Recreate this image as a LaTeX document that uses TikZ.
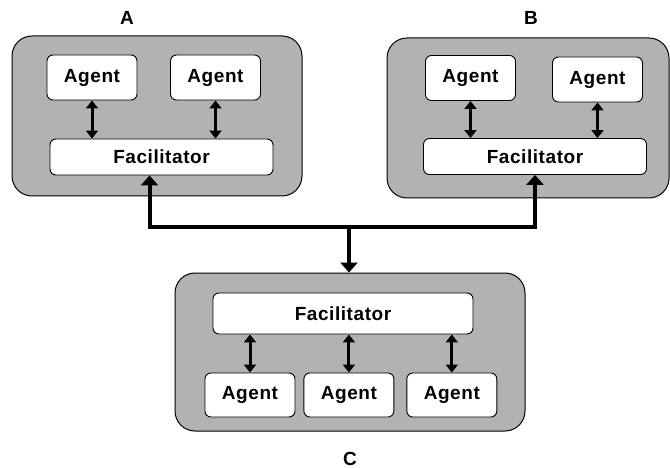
\documentclass[tikz,border=0pt]{standalone}
\usepackage{fontspec}
\setmainfont{Liberation Sans}[LetterSpace=3]
\usetikzlibrary{
  arrows.meta,
  positioning
}
\definecolor{groupgray}{gray}{0.70}

\begin{document}
\begin{tikzpicture}[x = 1pt, y = -1pt,
    every node/.style = {font = \fontsize{19}{22}\selectfont\bfseries},
    group/.style = {draw, line width = 1pt, fill = groupgray, rounded corners = 20pt},
    agent/.style = {draw, line width = 0.9pt, fill = white, rounded corners = 6pt,
      minimum width = 90pt, minimum height = 45pt, inner sep = 0pt},
    facil/.style = {agent, minimum width = 223pt, minimum height = 36pt},
    pair/.style = {line width = 3pt, {Triangle[width = 12pt, length = 8pt]}-{Triangle[width = 12pt, length = 8pt]}},
    bus/.style = {line width = 4pt, -{Triangle[width = 17pt, length = 10pt]}}]
    \useasboundingbox (0,0) rectangle (670,468);

    \node[group, minimum width = 290pt, minimum height = 160pt] (gA) at (157,116) {};
    \node[group, minimum width = 282pt, minimum height = 160pt] (gB) at (528,118) {};
    \node[group, minimum width = 350pt, minimum height = 158pt] (gC) at (350,352) {};

    \node[agent] (a1) at (92,77.5) {Agent};
    \node[agent] (a2) at (215.5,77.5) {Agent};
    \node[facil] (fA) at (161.5,157) {Facilitator};

    \node[agent] (b1) at (470.5,78) {Agent};
    \node[agent] (b2) at (597.5,79.5) {Agent};
    \node[facil] (fB) at (535,156.5) {Facilitator};

    \node[facil, minimum width = 260pt, minimum height = 41pt] (fC) at (343,313.5) {Facilitator};
    \node[agent, minimum height = 44pt] (c1) at (250,395) {Agent};
    \node[agent, minimum height = 44pt, right = 8pt of c1] (c2) {Agent};
    \node[agent, minimum height = 44pt, right = 12pt of c2] (c3) {Agent};

    \node (lA) at (127,18) {A};
    \node (lB) at (531,18) {B};
    \node[below = 17pt of gC] (lC) {C};

    \draw[pair] (a1) -- (a1 |- fA.north);
    \draw[pair] (a2) -- (a2 |- fA.north);
    \draw[pair] (b1) -- (b1 |- fB.north);
    \draw[pair] (b2) -- (b2 |- fB.north);
    \draw[pair] (c1 |- fC.south) -- (c1);
    \draw[pair] (c2 |- fC.south) -- (c2);
    \draw[pair] (c3 |- fC.south) -- (c3);

    \coordinate (hub) at (349,227);
    \draw[bus, {Triangle[width = 17pt, length = 10pt]}-{Triangle[width = 17pt, length = 10pt]}]
      ([xshift = -12pt]fA.south) |- (hub) -| (fB.south);
    \draw[bus] (hub) -- (hub |- gC.north);
\end{tikzpicture}
\end{document}
